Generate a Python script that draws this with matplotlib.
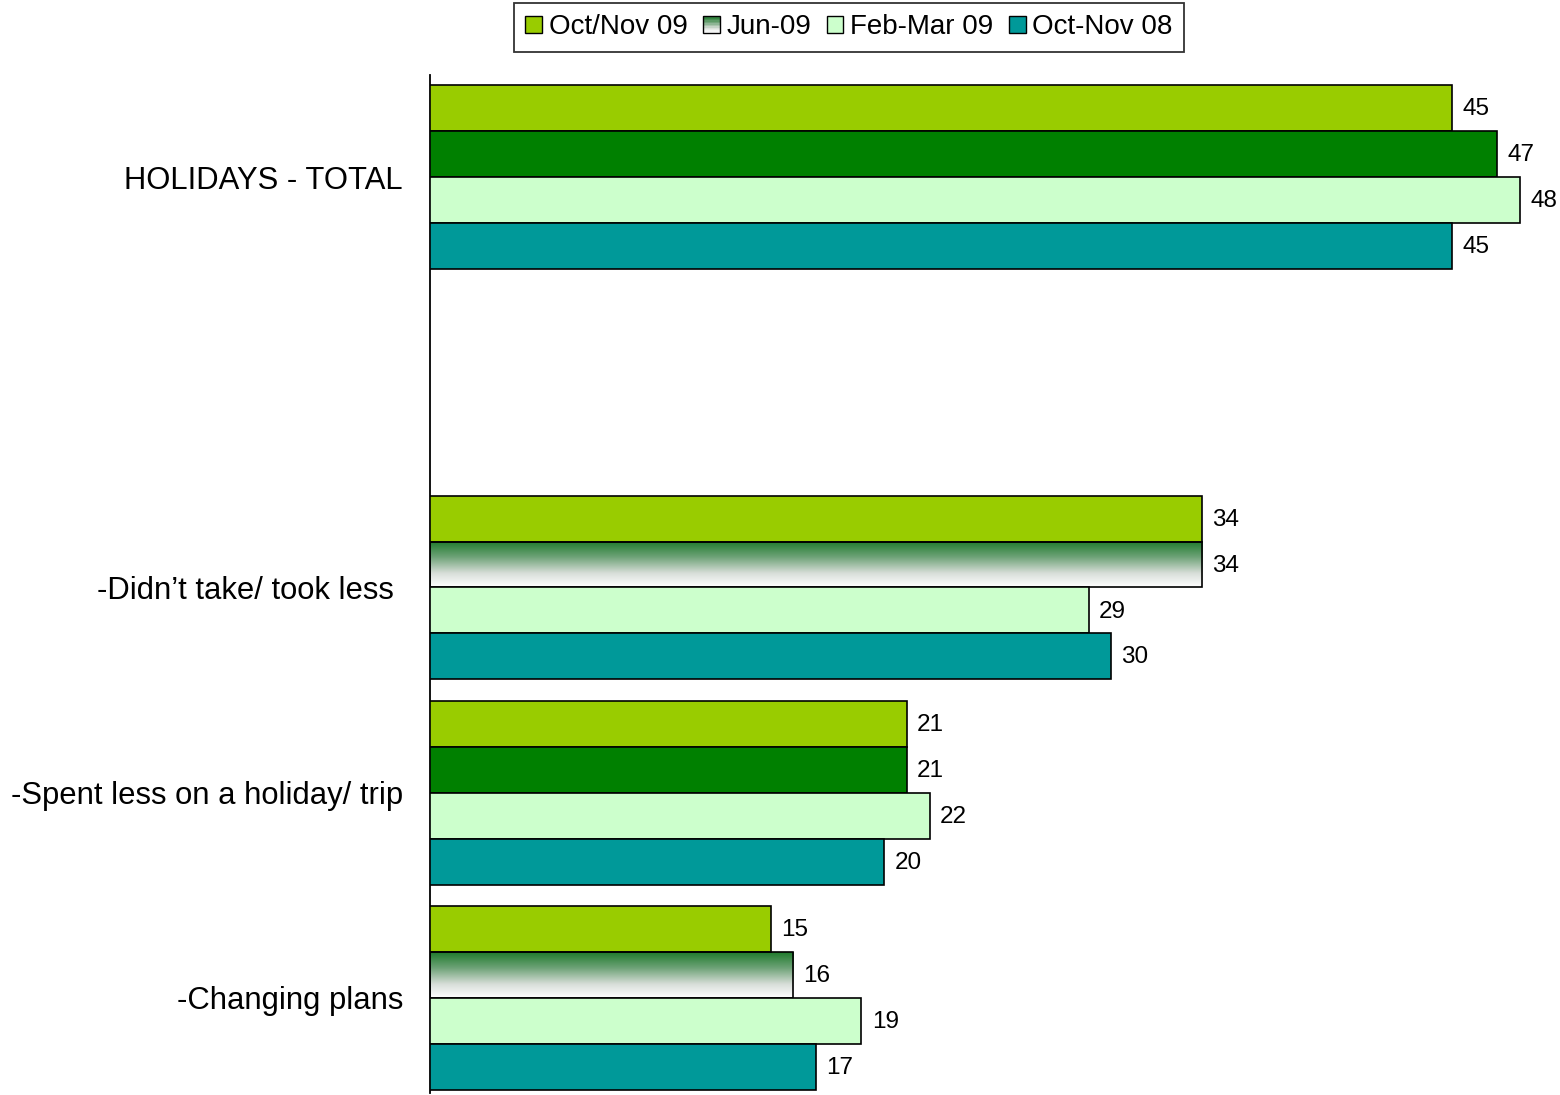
import matplotlib
matplotlib.use("Agg")
import matplotlib.pyplot as plt
import numpy as np
from matplotlib.patches import Rectangle
from matplotlib.colors import LinearSegmentedColormap
from matplotlib.legend_handler import HandlerBase

plt.rcParams['font.family'] = ['Liberation Sans', 'DejaVu Sans']

categories = ["HOLIDAYS - TOTAL", "", "-Didn\u2019t take/ took less ", "-Spent less on a holiday/ trip", "-Changing plans"]
series_names = ["Oct/Nov 09", "Jun-09", "Feb-Mar 09", "Oct-Nov 08"]
oct_nov_09 = [45, None, 34, 21, 15]
jun_09 = [47, None, 34, 21, 16]
feb_mar_09 = [48, None, 29, 22, 19]
oct_nov_08 = [45, None, 30, 20, 17]
series_values = [oct_nov_09, jun_09, feb_mar_09, oct_nov_08]

colors = ["#99CC00", "#008000", "#CCFFCC", "#009999"]
gradient_cats = {2, 4}  # Jun-09 bars drawn with gradient fill

grad_cmap = LinearSegmentedColormap.from_list(
    "g", [(0.0, "#1E7A2C"), (0.35, "#6FA378"), (0.7, "#D8DED9"), (1.0, "#FFFFFF")])

fig = plt.figure(figsize=(15.6, 10.95), dpi=100)
ax = fig.add_axes([430/1560, 2/1095, 1 - 430/1560, (1093-75)/1095])

h = 0.224
ypos = np.arange(len(categories))
grad = np.linspace(0, 1, 256).reshape(-1, 1)
for k, (name, vals, col) in enumerate(zip(series_names, series_values, colors)):
    for i, v in enumerate(vals):
        if v is None:
            continue
        yc = ypos[i] + (k - 1.5) * h
        if k == 1 and i in gradient_cats:
            ax.imshow(grad, cmap=grad_cmap, aspect='auto',
                      extent=[0, v, yc + h/2, yc - h/2], zorder=2, interpolation='bilinear')
            ax.barh(yc, v, height=h, facecolor='none', edgecolor='black', linewidth=1.2, zorder=3)
        else:
            ax.barh(yc, v, height=h, color=col, edgecolor='black', linewidth=1.2, zorder=3)
        ax.text(v + 0.45, yc + 0.005, str(v), va='center', ha='left', fontsize=17.5, color='black')

ax.set_xlim(0, (1560 - 430) / 22.71)
ax.set_ylim(4.463, -0.497)
ax.set_yticks(ypos)
ax.set_yticklabels(categories, fontsize=22.3)
ax.tick_params(axis='y', length=0, pad=19.5)
ax.set_xticks([])
for s in ['top', 'right', 'bottom']:
    ax.spines[s].set_visible(False)
ax.spines['left'].set_linewidth(1.3)


class GradHandler(HandlerBase):
    def create_artists(self, legend, orig_handle, xdescent, ydescent, width, height, fontsize, trans):
        n = 12
        arts = []
        cols = grad_cmap(np.linspace(0, 1, n))
        for j in range(n):
            r = Rectangle((-xdescent, -ydescent + height * (1 - (j + 1) / n)), width, height / n,
                          facecolor=cols[j], edgecolor='none', transform=trans)
            arts.append(r)
        arts.append(Rectangle((-xdescent, -ydescent), width, height, facecolor='none',
                              edgecolor='black', linewidth=1.0, transform=trans))
        return arts


handles = []
for k, (name, col) in enumerate(zip(series_names, colors)):
    handles.append(Rectangle((0, 0), 1, 1, facecolor=col, edgecolor='black', linewidth=1.0))
handler_map = {handles[1]: GradHandler()}

leg = fig.legend(handles, series_names, loc='upper center', bbox_to_anchor=(849/1560, 0.997),
                 borderaxespad=0, ncol=4, fontsize=20, frameon=True, fancybox=False,
                 edgecolor='black', handlelength=0.6, handleheight=0.6, handletextpad=0.25,
                 columnspacing=0.55, borderpad=0.4, handler_map=handler_map)
leg.get_frame().set_linewidth(1.3)

fig.savefig("out.png", dpi=100)
